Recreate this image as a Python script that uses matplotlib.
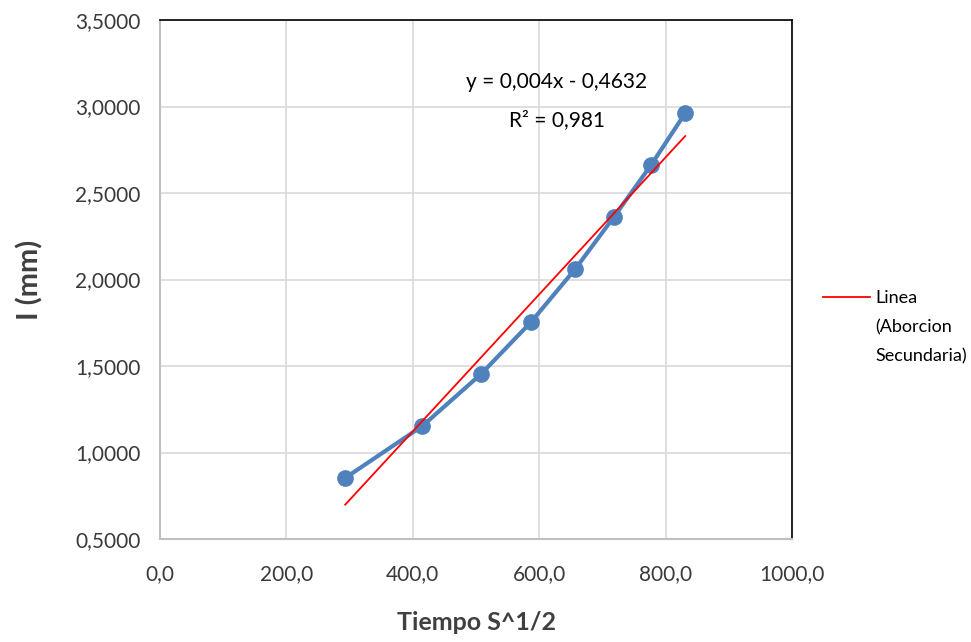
import numpy as np
import matplotlib
matplotlib.use('Agg')
from matplotlib import pyplot as plt
from matplotlib.legend_handler import HandlerLine2D

# %% data
tiempo = [293, 415, 508, 587, 657, 718, 777, 831]
espesor = [0.853, 1.153, 1.454, 1.754, 2.061, 2.361, 2.662, 2.962]
xticks = [0, 200, 400, 600, 800, 1000]
yticks = [0.5, 1.0, 1.5, 2.0, 2.5, 3.0, 3.5]

# linear trend (Excel style)
pend, orig = np.polyfit(tiempo, espesor, 1)
x_fit = np.array([min(tiempo), max(tiempo)])
y_fit = pend * x_fit + orig

LEG_FS = 13
LEG_SPACING = 1.98


class TopLine(HandlerLine2D):
    # put the legend line next to the first text line
    def create_artists(self, legend, orig_handle, xdescent, ydescent,
                       width, height, fontsize, trans):
        shift = 2 * 0.86 * LEG_SPACING * fontsize
        return super().create_artists(legend, orig_handle, xdescent,
                                      ydescent - shift, width, height,
                                      fontsize, trans)


# %% plot
plt.rcParams['font.family'] = ['Lato', 'DejaVu Sans']

fig = plt.figure(figsize=(9.71, 6.42), dpi=100)
ax = fig.add_axes([0.1648, 0.1604, 0.6509, 0.8084])

ax.plot(tiempo, espesor, color='#4f81bd', lw=3, marker='o', ms=11, zorder=3)
fit_line, = ax.plot(x_fit, y_fit, color='#ff0000', lw=1.3, zorder=4,
                    label='Linea\n(Aborcion\nSecundaria)')

ax.set_xlim(0, 1000)
ax.set_ylim(0.5, 3.5)
ax.set_xticks(xticks)
ax.set_yticks(yticks)
ax.set_xticklabels([f"{v:.1f}".replace('.', ',') for v in xticks])
ax.set_yticklabels([f"{v:.4f}".replace('.', ',') for v in yticks])
ax.tick_params(length=0, labelsize=15, colors='#3a3a3a')
ax.tick_params(axis='y', pad=14)
ax.tick_params(axis='x', pad=18)

ax.grid(True, color='#d9d9d9', lw=1.2)
ax.set_axisbelow(True)
for side in ['left', 'bottom']:
    ax.spines[side].set_color('#bfbfbf')
    ax.spines[side].set_linewidth(1.5)
for side in ['top', 'right']:
    ax.spines[side].set_color('black')
    ax.spines[side].set_linewidth(1.2)

ax.set_xlabel('Tiempo S^1/2', fontsize=18, fontweight='bold', color='#404040', va='center')
ax.xaxis.set_label_coords(0.5, -0.16)
ax.set_ylabel('I (mm)', fontsize=21, fontweight='bold', color='#404040', va='center')
ax.yaxis.set_label_coords(-0.206, 0.5)

ax.text(628, 3.142, 'y = 0,004x - 0,4632', fontsize=15, ha='center', va='center')
ax.text(628, 2.922, 'R² = 0,981', fontsize=15, ha='center', va='center')

leg = fig.legend(handles=[fit_line], loc='upper left', bbox_to_anchor=(0.831, 0.573),
                 frameon=False, fontsize=LEG_FS, handlelength=2.6, handletextpad=0.3,
                 handler_map={fit_line: TopLine()})
for t in leg.get_texts():
    t.set_linespacing(LEG_SPACING)

fig.savefig('out.png', dpi=100)
